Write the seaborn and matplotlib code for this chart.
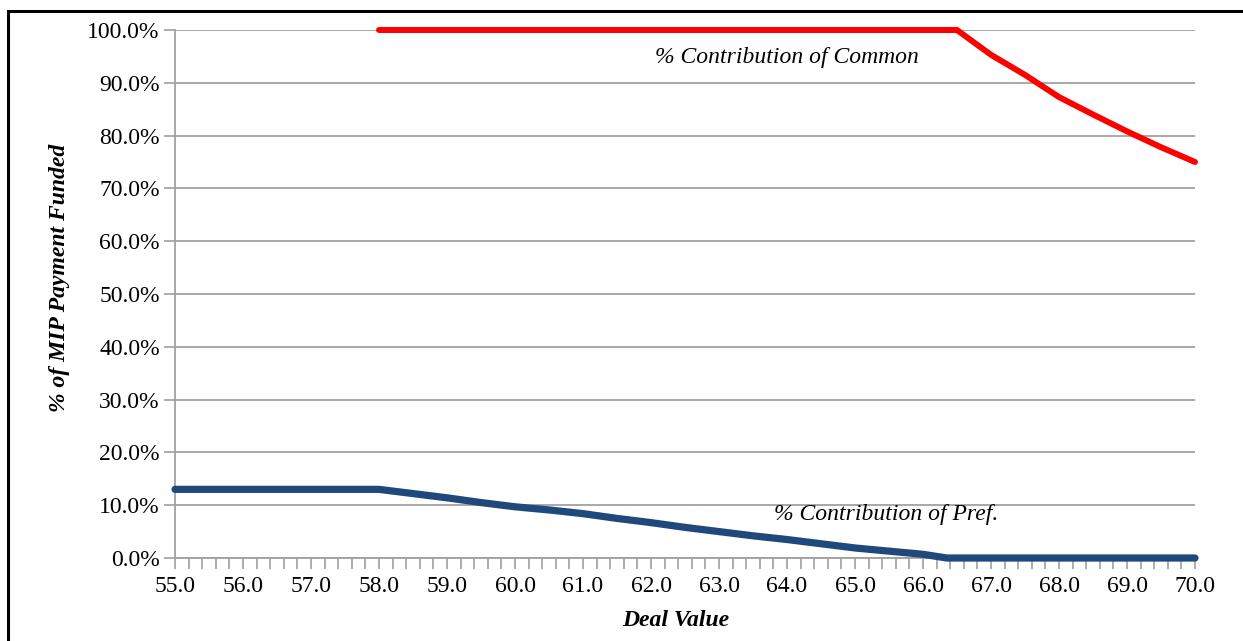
import matplotlib
matplotlib.use("Agg")
import matplotlib.pyplot as plt
import matplotlib.patches as mpatches
from matplotlib.ticker import MultipleLocator, FuncFormatter
import seaborn as sns
import pandas as pd

# Data
common_x = [58.0, 59.0, 60.0, 61.0, 62.0, 63.0, 64.0, 65.0, 66.0, 66.5,
            67.0, 67.5, 68.0, 68.5, 69.0, 69.5, 70.0]
common_y = [100.0, 100.0, 100.0, 100.0, 100.0, 100.0, 100.0, 100.0, 100.0, 100.0,
            95.3, 91.5, 87.3, 84.0, 80.8, 77.8, 75.0]

pref_x = [55.0, 56.0, 57.0, 58.0, 58.5, 59.0, 59.5, 60.0, 60.5, 61.0, 61.5,
          62.0, 62.5, 63.0, 63.5, 64.0, 64.5, 65.0, 65.5, 66.0, 66.35,
          67.0, 68.0, 69.0, 70.0]
pref_y = [13.0, 13.0, 13.0, 13.0, 12.2, 11.4, 10.5, 9.7, 9.1, 8.4, 7.5,
          6.7, 5.8, 5.0, 4.2, 3.5, 2.7, 1.9, 1.3, 0.7, 0.0,
          0.0, 0.0, 0.0, 0.0]

x_label = "Deal Value"
y_label = "% of MIP Payment Funded"
common_label = "% Contribution of Common"
pref_label = "% Contribution of Pref."

sns.set_style("white")
plt.rcParams["font.family"] = ["Liberation Serif", "DejaVu Serif"]
plt.rcParams["text.color"] = "black"
plt.rcParams["axes.labelcolor"] = "black"

fig = plt.figure(figsize=(12.43, 6.41), dpi=100)
ax = fig.add_axes([175 / 1243, 1 - 558 / 641, 1020 / 1243, 528 / 641])

df_c = pd.DataFrame({"x": common_x, "y": common_y})
df_p = pd.DataFrame({"x": pref_x, "y": pref_y})

sns.lineplot(data=df_p, x="x", y="y", ax=ax, color="#1f497d", linewidth=5.2,
             solid_capstyle="round", solid_joinstyle="round", clip_on=False, zorder=4)
sns.lineplot(data=df_c, x="x", y="y", ax=ax, color="#ff0000", linewidth=4.3,
             solid_capstyle="round", solid_joinstyle="round", clip_on=False, zorder=5)

ax.set_xlim(55, 70)
ax.set_ylim(0, 100)
ax.xaxis.set_major_locator(MultipleLocator(1.0))
ax.xaxis.set_minor_locator(MultipleLocator(0.2))
ax.yaxis.set_major_locator(MultipleLocator(10))
ax.xaxis.set_major_formatter(FuncFormatter(lambda v, p: f"{v:.1f}"))
ax.yaxis.set_major_formatter(FuncFormatter(lambda v, p: f"{v:.1f}%"))

ax.grid(axis="y", color="#999999", linewidth=1.2, zorder=0)
ax.grid(axis="x", visible=False)
for s in ["top", "right"]:
    ax.spines[s].set_visible(False)
for s in ["left", "bottom"]:
    ax.spines[s].set_color("#a0a0a0")
    ax.spines[s].set_linewidth(1.3)

ax.tick_params(axis="x", which="both", bottom=True, direction="out", color="#a0a0a0",
               width=1.2, length=8, labelsize=17, labelcolor="black", pad=5)
ax.tick_params(axis="y", which="major", left=True, direction="out", color="#a0a0a0",
               width=1.2, length=8, labelsize=17, labelcolor="black", pad=3)
ax.tick_params(axis="y", which="minor", left=False)

ax.set_xlabel(x_label, fontsize=17, fontweight="bold", fontstyle="italic", color="black")
ax.set_ylabel(y_label, fontsize=17, fontweight="bold", fontstyle="italic", color="black")
ax.xaxis.set_label_coords((676 - 175) / 1020, -(620 - 558) / 528, transform=ax.transAxes)
ax.yaxis.set_label_coords(-(175 - 60) / 1020, (558 - 278) / 528, transform=ax.transAxes)
ax.xaxis.label.set_va("center")
ax.yaxis.label.set_va("center")

ax.text(64.0, 94.7, common_label, fontsize=17, fontstyle="italic",
        ha="center", va="center", color="black")
ax.text(65.46, 8.3, pref_label, fontsize=17, fontstyle="italic",
        ha="center", va="center", color="black")

# Outer frame
frame = mpatches.Rectangle((8 / 1243, -0.05), 1.2, (641 - 11) / 641 + 0.05,
                           transform=fig.transFigure, fill=False,
                           edgecolor="black", linewidth=2.2)
fig.patches.append(frame)

fig.savefig("out.png", dpi=100)
